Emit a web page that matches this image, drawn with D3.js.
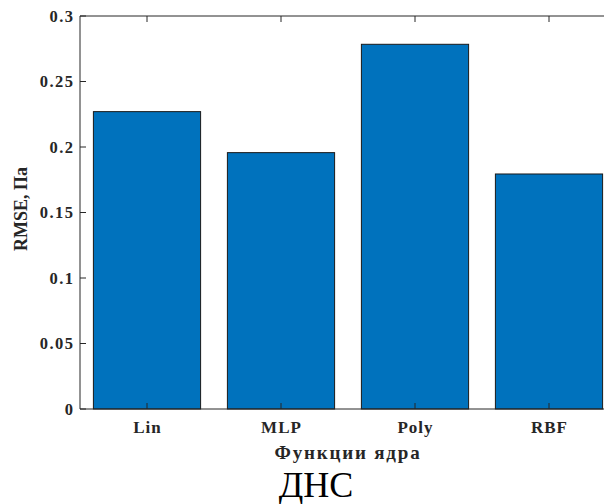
<!DOCTYPE html>
<html><head><meta charset="utf-8">
<script src="https://cdn.jsdelivr.net/npm/d3@7"></script>
<style>body{margin:0;background:#fff}svg{display:block}text{font-family:"Liberation Serif","Times New Roman",serif}</style>
</head><body>
<script>
const categories = ["Lin", "MLP", "Poly", "RBF"];
const values = [0.227, 0.1957, 0.2784, 0.1794];
const yTicks = [0, 0.05, 0.1, 0.15, 0.2, 0.25, 0.3];
const yTickLabels = ["0", "0.05", "0.1", "0.15", "0.2", "0.25", "0.3"];
const xTitle = "Функции ядра";
const yTitle = "RMSE, Па";
const caption = "ДНС";

const W = 604, H = 504;
const svg = d3.select("body").append("svg").attr("width", W).attr("height", H);
const x = d3.scaleLinear().domain([0.5, 4.5]).range([80, 616]);
const y = d3.scaleLinear().domain([0, 0.3]).range([409, 16]);
const axisColor = "#262626";

const g = svg.append("g");
const bw = 0.8;
g.selectAll("rect.bar").data(values).join("rect")
  .attr("x", (d, i) => x(i + 1 - bw / 2))
  .attr("width", (d, i) => x(i + 1 + bw / 2) - x(i + 1 - bw / 2))
  .attr("y", d => y(d))
  .attr("height", d => y(0) - y(d))
  .attr("fill", "#0072BD")
  .attr("stroke", "#1a1a1a")
  .attr("stroke-width", 1);

g.append("line").attr("x1", x(0.5)).attr("x2", x(4.5)).attr("y1", y(0)).attr("y2", y(0)).attr("stroke", axisColor);
g.append("line").attr("x1", x(0.5)).attr("x2", x(4.5)).attr("y1", y(0.3)).attr("y2", y(0.3)).attr("stroke", axisColor);
g.append("line").attr("x1", x(0.5)).attr("x2", x(0.5)).attr("y1", y(0)).attr("y2", y(0.3)).attr("stroke", axisColor);

const tl = 6;
yTicks.forEach((t, i) => {
  g.append("line").attr("x1", x(0.5)).attr("x2", x(0.5) + tl).attr("y1", y(t)).attr("y2", y(t)).attr("stroke", axisColor);
  g.append("text").attr("x", 74.5).attr("y", y(t)).attr("dy", "0.35em")
    .attr("text-anchor", "end").attr("font-size", 16.5).attr("font-weight", "bold")
    .attr("letter-spacing", 1.5).attr("fill", axisColor).text(yTickLabels[i]);
});
categories.forEach((c, i) => {
  const cx = x(i + 1);
  g.append("line").attr("x1", cx).attr("x2", cx).attr("y1", y(0)).attr("y2", y(0) - tl).attr("stroke", axisColor);
  g.append("line").attr("x1", cx).attr("x2", cx).attr("y1", y(0.3)).attr("y2", y(0.3) + tl).attr("stroke", axisColor);
  g.append("text").attr("x", cx + 0.5).attr("y", 433).attr("text-anchor", "middle")
    .attr("font-size", 17).attr("font-weight", "bold").attr("letter-spacing", 1)
    .attr("fill", axisColor).text(c);
});

svg.append("text").attr("x", 348).attr("y", 459).attr("text-anchor", "middle")
  .attr("font-size", 19).attr("font-weight", "bold").attr("letter-spacing", 1.8)
  .attr("fill", axisColor).text(xTitle);
svg.append("text").attr("transform", "translate(27,209) rotate(-90)").attr("text-anchor", "middle")
  .attr("font-size", 18).attr("font-weight", "bold").attr("fill", axisColor).text(yTitle);
svg.append("text").attr("x", 316).attr("y", 497).attr("text-anchor", "middle")
  .attr("font-size", 36).attr("fill", "#000").text(caption);
</script>
</body></html>
